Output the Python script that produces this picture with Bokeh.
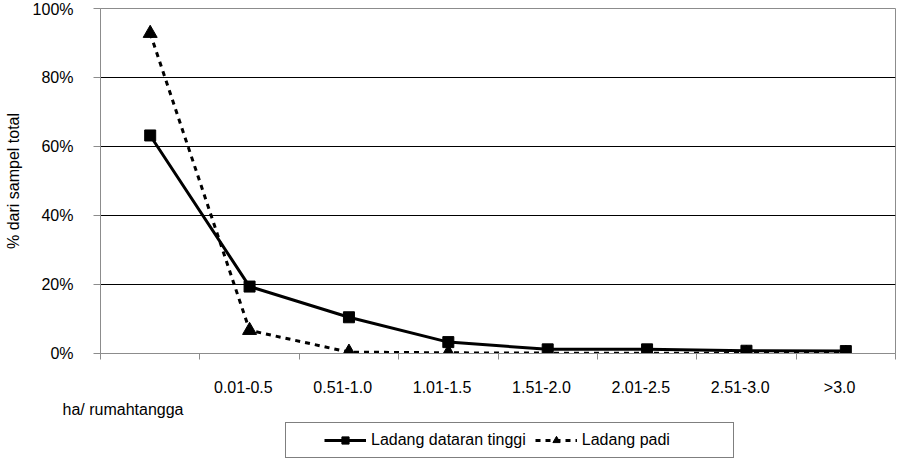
from bokeh.plotting import figure
from bokeh.layouts import column
from bokeh.models import (Range1d, FixedTicker, PrintfTickFormatter, Title, Legend, LegendItem)
from bokeh.embed import file_html
from bokeh.resources import INLINE

categories = ["", "0.01-0.5", "0.51-1.0", "1.01-1.5", "1.51-2.0", "2.01-2.5", "2.51-3.0", ">3.0"]
ladang_dataran_tinggi = [63.2, 19.4, 10.5, 3.3, 1.2, 1.2, 0.8, 0.7]
ladang_padi = [92.8, 6.7, 0.4, 0.2, 0.1, 0.1, 0.1, 0.1]
y_ticks = [0, 20, 40, 60, 80, 100]

FONT = "Liberation Sans"
xs = [i + 0.5 for i in range(len(categories))]
label_pos = [i + 0.4375 for i, c in enumerate(categories) if c]
label_txt = [c for c in categories if c]

TINGGI_LINE = dict(line_color="black", line_width=3)
PADI_LINE = dict(line_color="black", line_width=3, line_dash="5 5")
TINGGI_MARK = dict(marker="square", size=11, fill_color="black", line_color="black")
PADI_MARK = dict(marker="triangle", size=14, fill_color="black", line_color="black")

p = figure(width=898, height=418, output_backend="svg", toolbar_location=None,
           x_range=Range1d(0, len(categories)), y_range=Range1d(0, 100),
           min_border_left=100, min_border_right=3, min_border_top=8, min_border_bottom=65)
p.background_fill_color = "white"
p.border_fill_color = "white"
p.outline_line_color = "#8c8c8c"
p.outline_line_width = 1

# grid
p.xgrid.visible = False
p.ygrid.ticker = FixedTicker(ticks=y_ticks)
p.ygrid.grid_line_color = "black"
p.ygrid.grid_line_width = 1

# y axis
p.yaxis.ticker = FixedTicker(ticks=y_ticks)
p.yaxis.formatter = PrintfTickFormatter(format="%d%%")
p.yaxis.axis_label = "% dari sampel total"
p.yaxis.axis_label_text_font = FONT
p.yaxis.axis_label_text_font_size = "16px"
p.yaxis.axis_label_text_font_style = "normal"
p.yaxis.axis_label_text_color = "black"
p.yaxis.axis_label_standoff = 8
p.yaxis.major_label_text_font = FONT
p.yaxis.major_label_text_font_size = "16px"
p.yaxis.major_label_text_color = "black"
p.yaxis.major_label_standoff = 20
p.yaxis.major_tick_out = 7
p.yaxis.major_tick_in = 0
p.yaxis.minor_tick_line_color = None
p.yaxis.axis_line_color = "#8c8c8c"
p.yaxis.major_tick_line_color = "#8c8c8c"

# x axis: labels near category centres, tick marks on boundaries
p.xaxis.ticker = FixedTicker(ticks=label_pos, minor_ticks=list(range(len(categories) + 1)))
p.xaxis.major_label_overrides = {pos: c for pos, c in zip(label_pos, label_txt)}
p.xaxis.major_label_text_font = FONT
p.xaxis.major_label_text_font_size = "16px"
p.xaxis.major_label_text_color = "black"
p.xaxis.major_label_standoff = 19
p.xaxis.major_tick_out = 0
p.xaxis.major_tick_in = 0
p.xaxis.major_tick_line_color = None
p.xaxis.minor_tick_out = 6
p.xaxis.minor_tick_in = 0
p.xaxis.minor_tick_line_color = "#8c8c8c"
p.xaxis.axis_line_color = "#8c8c8c"

# series
p.line(xs, ladang_padi, **PADI_LINE)
p.line(xs, ladang_dataran_tinggi, **TINGGI_LINE)
p.scatter(xs, ladang_padi, **PADI_MARK)
p.scatter(xs, ladang_dataran_tinggi, **TINGGI_MARK)

# x axis title at left, below the tick labels
p.add_layout(Title(text="ha/ rumahtangga", align="left", offset=-38, standoff=1,
                   text_font=FONT, text_font_size="16px", text_font_style="normal",
                   text_color="black"), "below")

# legend strip below the chart (series drawn out of view, only their legend glyphs show)
lf = figure(width=898, height=41, output_backend="svg", toolbar_location=None,
            x_range=Range1d(-100, -99), y_range=Range1d(-100, -99), x_axis_type=None, y_axis_type=None,
            min_border_left=0, min_border_right=0, min_border_top=0, min_border_bottom=0)
lf.outline_line_color = None
lf.xgrid.visible = False
lf.ygrid.visible = False
lt_line = lf.line(xs, ladang_dataran_tinggi, **TINGGI_LINE)
lt_pts = lf.scatter(xs, ladang_dataran_tinggi, **TINGGI_MARK)
lp_line = lf.line(xs, ladang_padi, **PADI_LINE)
lp_pts = lf.scatter(xs, ladang_padi, **PADI_MARK)

legend = Legend(items=[LegendItem(label="Ladang dataran tinggi", renderers=[lt_line, lt_pts]),
                       LegendItem(label="Ladang padi", renderers=[lp_line, lp_pts])],
                orientation="horizontal", location=(185, 1),
                label_text_font=FONT, label_text_font_size="16px", label_text_color="black",
                glyph_width=42, glyph_height=18, label_standoff=5, spacing=9,
                label_width=113, border_line_color="black", border_line_width=1,
                background_fill_alpha=1, margin=0)
try:
    legend.padding = (38, 8)
except Exception:
    legend.padding = 8
lf.add_layout(legend, "center")

layout = column(p, lf, spacing=0)
open("out.html", "w").write(file_html(layout, INLINE))
